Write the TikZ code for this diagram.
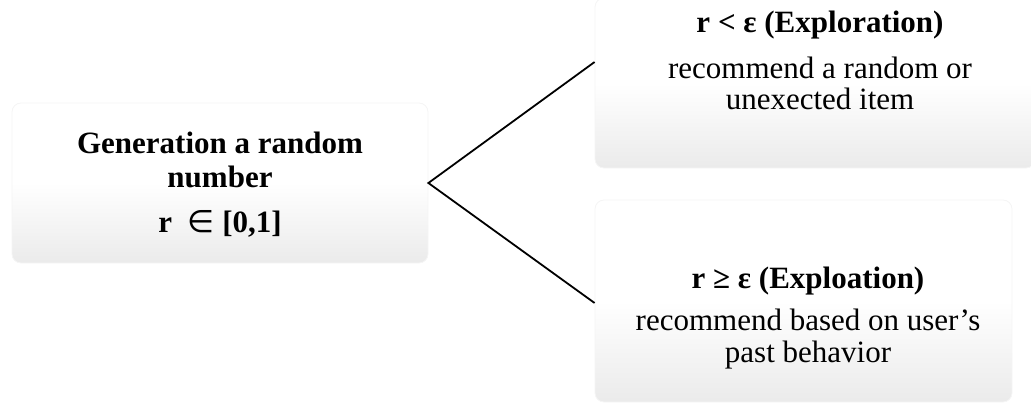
\documentclass[tikz,border=0pt]{standalone}
\usepackage{fontspec}
\setmainfont{Liberation Serif}
\newfontfamily\symfont{DejaVu Sans}
% soft vertical fill: white in the upper half, light grey towards the bottom
\pgfdeclareverticalshading{softbox}{100bp}{%
  color(0bp)=(black!15); color(25bp)=(black!8); color(50bp)=(white); color(100bp)=(white)}
\begin{document}
\begin{tikzpicture}[x=1pt,y=-1pt,
  panel/.style={rectangle, rounded corners=9pt, shading=softbox, draw=black!4,
    line width=0.8pt, inner sep=0pt},
  txt/.style={anchor=base, inner sep=0pt, font=\fontsize{31}{34}\selectfont},
  btxt/.style={txt, font=\fontsize{31}{34}\selectfont\bfseries},
  link/.style={draw=black, line width=1.8pt}]
\useasboundingbox (0,0) rectangle (1031,404);

% panels
\node[panel, minimum width=416pt, minimum height=160pt] (gen) at (220,183) {};
\node[panel, minimum width=440pt, minimum height=170pt] (explr) at (815,83) {};
\node[panel, minimum width=417pt, minimum height=202pt] (explt) at (803.5,301) {};

% left panel text
\node[btxt] (g1) at (220,153) {Generation a random};
\node[btxt] (g2) at (220,187) {number};
\node[btxt] (g3) at (220,232) {r\ \ {\symfont\mdseries ∈} [0,1]};

% upper right panel text
\node[btxt] (e1) at (820,33) {r < ε (Exploration)};
\node[txt] (e2) at (820,78) {recommend a random or};
\node[txt] (e3) at (820,110) {unexected item};

% lower right panel text
\node[btxt] (x1) at (808,288) {r ≥ ε (Exploation)};
\node[txt] (x2) at (808,330) {recommend based on user’s};
\node[txt] (x3) at (808,362) {past behavior};

% branching connector
\coordinate (up) at (explr.west |- 0,62);
\coordinate (down) at (explt.west |- 0,303);
\draw[link] (up) -- (gen.east) -- (down);
\end{tikzpicture}
\end{document}
